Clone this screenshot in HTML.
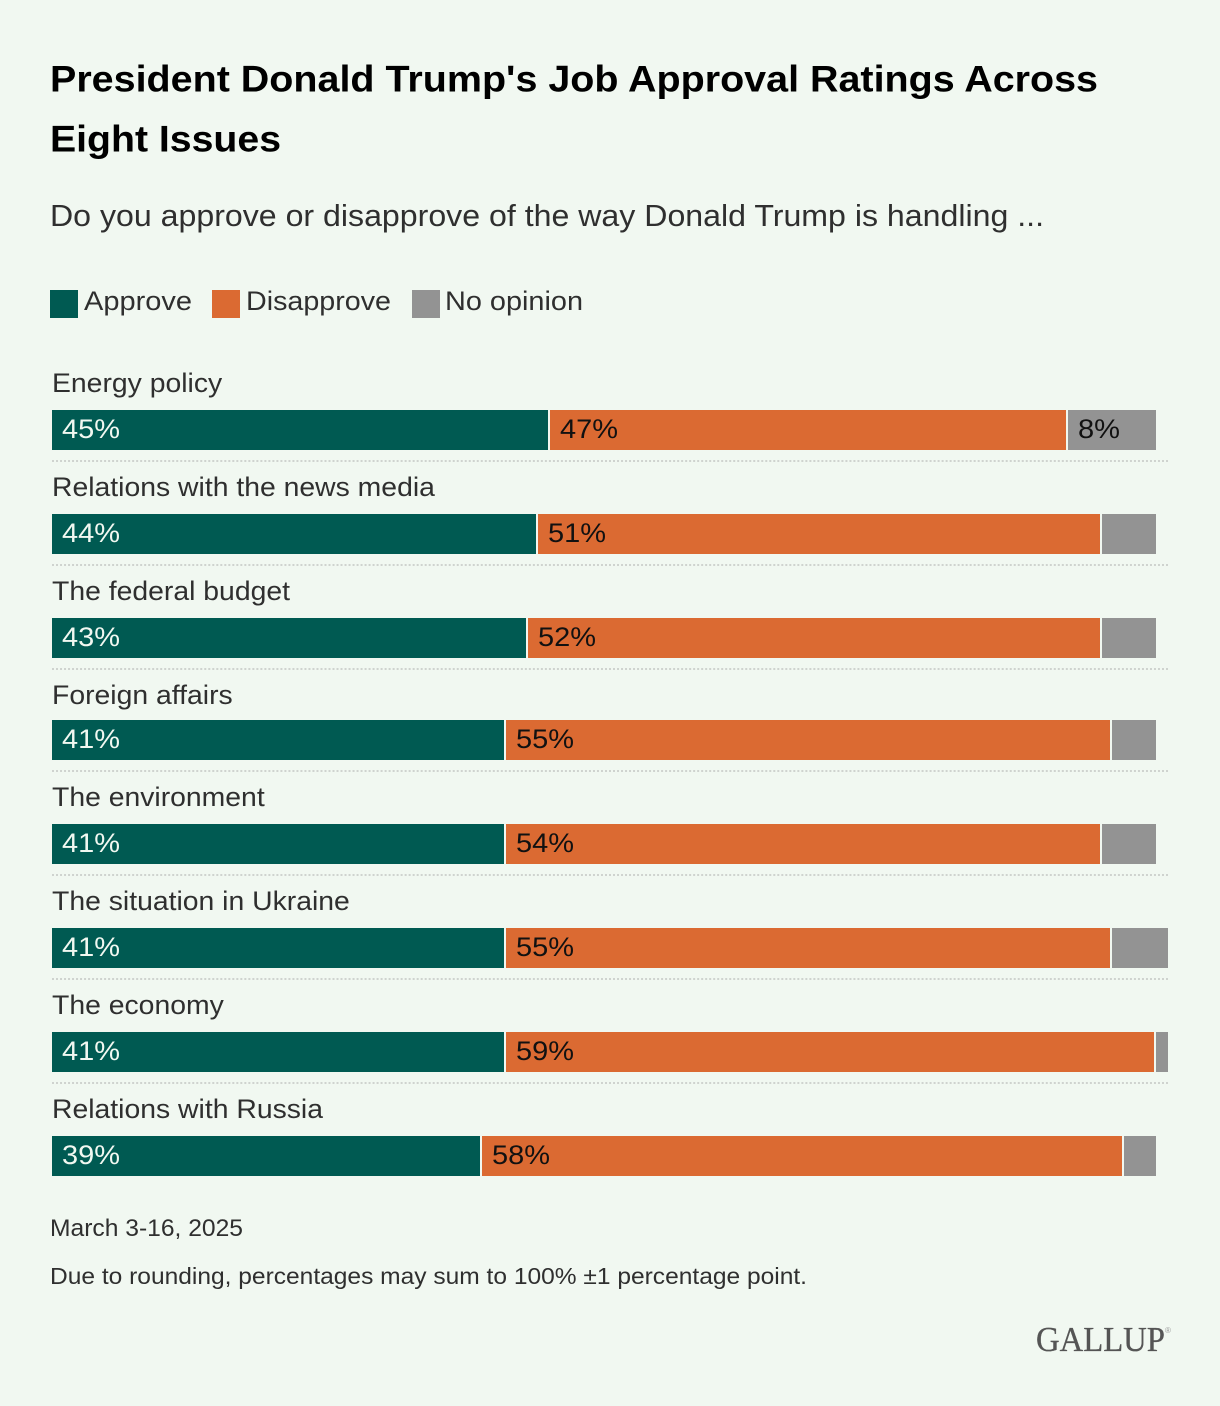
<!DOCTYPE html>
<html lang="en">
<head>
<meta charset="utf-8">
<title>President Donald Trump's Job Approval Ratings Across Eight Issues</title>
<style>
  html, body { margin: 0; padding: 0; background: #f1f8f1; }
  body { width: 1220px; height: 1406px; overflow: hidden; }
  svg { display: block; font-family: "Liberation Sans", Arial, sans-serif; }
  .body-text { fill: #2f2f2f; }
</style>
</head>
<body>
<svg id="chart" xmlns="http://www.w3.org/2000/svg" width="1220" height="1406" viewBox="0 0 1220 1406">
  <rect x="0" y="0" width="1220" height="1406" fill="#f1f8f1"/>

  <text x="50" y="91.5" font-size="37" font-weight="700" fill="#000" textLength="1048" lengthAdjust="spacingAndGlyphs">President Donald Trump's Job Approval Ratings Across</text>
  <text x="50" y="151.5" font-size="37" font-weight="700" fill="#000" textLength="231" lengthAdjust="spacingAndGlyphs">Eight Issues</text>
  <text class="body-text" x="50" y="226" font-size="31" textLength="994" lengthAdjust="spacingAndGlyphs">Do you approve or disapprove of the way Donald Trump is handling ...</text>

  <g>
    <rect x="50" y="290" width="28" height="28" fill="#005a52"/>
    <text class="body-text" x="84" y="310" font-size="27" textLength="108" lengthAdjust="spacingAndGlyphs">Approve</text>
    <rect x="212" y="290" width="28" height="28" fill="#db6a32"/>
    <text class="body-text" x="246" y="310" font-size="27" textLength="145" lengthAdjust="spacingAndGlyphs">Disapprove</text>
    <rect x="412" y="290" width="28" height="28" fill="#939393"/>
    <text class="body-text" x="445" y="310" font-size="27" textLength="138" lengthAdjust="spacingAndGlyphs">No opinion</text>
  </g>

  <g id="rows"></g>

  <text class="body-text" x="50" y="1236" font-size="24" textLength="193" lengthAdjust="spacingAndGlyphs">March 3-16, 2025</text>
  <text class="body-text" x="50" y="1284" font-size="23" textLength="757" lengthAdjust="spacingAndGlyphs">Due to rounding, percentages may sum to 100% ±1 percentage point.</text>

  <text x="1036" y="1351" font-size="35" fill="#555" stroke="#555" stroke-width="0.3" style="font-family:'Liberation Serif',serif" textLength="129" lengthAdjust="spacingAndGlyphs">GALLUP</text>
  <text x="1165" y="1333" font-size="8" fill="#999" style="font-family:'Liberation Sans',sans-serif">®</text>
</svg>

<script>
const categories = ["Energy policy", "Relations with the news media", "The federal budget", "Foreign affairs", "The environment", "The situation in Ukraine", "The economy", "Relations with Russia"];
const approve = [45, 44, 43, 41, 41, 41, 41, 39];
const disapprove = [47, 51, 52, 55, 54, 55, 59, 58];
const noOpinion = [8, 5, 5, 4, 5, 5, 1, 3];
const showNoOpinionLabel = [true, false, false, false, false, false, false, false];

const NS = "http://www.w3.org/2000/svg";
const rowsGroup = document.getElementById("rows");
const LEFT = 52;
const UNIT = 11;
const GAP = 2;
const BAND = 103.6;
const FIRST_BAR_Y = 410;
const FIRST_LABEL_Y = 392.4;

function snap(v) { return Math.round(v / 2) * 2; }
function xWidth(pct) { return pct * UNIT; }
function approveEdge(pct) { return Math.floor((LEFT - 1 + pct * 11.05) / 2) * 2; }
function barY(i) { return snap(FIRST_BAR_Y + i * BAND); }
function labelY(i) { return snap(FIRST_LABEL_Y + i * BAND); }

function addRect(parent, x0, x1, y, h, fill) {
  const r = document.createElementNS(NS, "rect");
  r.setAttribute("x", x0);
  r.setAttribute("y", y);
  r.setAttribute("width", Math.max(0, x1 - x0));
  r.setAttribute("height", h);
  r.setAttribute("fill", fill);
  parent.appendChild(r);
  return r;
}

function addPct(parent, x, y, pct, fill) {
  const t = document.createElementNS(NS, "text");
  t.textContent = pct + "%";
  t.setAttribute("x", x);
  t.setAttribute("y", y);
  t.setAttribute("font-size", "27");
  t.setAttribute("fill", fill);
  t.setAttribute("textLength", String(pct).length > 1 ? 58 : 42);
  t.setAttribute("lengthAdjust", "spacingAndGlyphs");
  parent.appendChild(t);
  return t;
}

categories.forEach(function (name, i) {
  const y = barY(i);
  const slug = name.toLowerCase().replace(/\s+/g, "-");
  const row = document.createElementNS(NS, "g");
  
  
  rowsGroup.appendChild(row);

  const label = document.createElementNS(NS, "text");
  label.textContent = name;
  label.setAttribute("x", LEFT);
  label.setAttribute("y", labelY(i));
  label.setAttribute("font-size", "27");
  label.setAttribute("class", "body-text");
  
  
  row.appendChild(label);
  label.setAttribute("textLength", (label.getComputedTextLength() * 1.05).toFixed(1));
  label.setAttribute("lengthAdjust", "spacingAndGlyphs");

  const aEnd = approveEdge(approve[i]);
  const aTrue = LEFT + xWidth(approve[i]);
  const dStartTrue = aTrue + GAP;
  const dEndTrue = dStartTrue + xWidth(disapprove[i]);
  const nStartTrue = dEndTrue + GAP;
  const nEndTrue = nStartTrue + xWidth(noOpinion[i]);

  const aRect = addRect(row, LEFT, aEnd, y, 40, "#005a52");
  
  

  const dStart = aEnd + GAP;
  const dRect = addRect(row, dStart, snap(dEndTrue), y, 40, "#db6a32");
  
  

  const nStart = snap(nStartTrue);
  const nRect = addRect(row, nStart, snap(nEndTrue), y, 40, "#939393");
  
  

  const aText = addPct(row, LEFT + 10, y + 28, approve[i], "#f1f8f1");
  
  

  const dText = addPct(row, dStart + 10, y + 28, disapprove[i], "#111");
  
  

  if (showNoOpinionLabel[i]) {
    const nText = addPct(row, nStart + 10, y + 28, noOpinion[i], "#111");
    
    
  }

  if (i < categories.length - 1) {
    const sep = document.createElementNS(NS, "line");
    sep.setAttribute("x1", LEFT);
    sep.setAttribute("x2", 1168);
    sep.setAttribute("y1", y + 51);
    sep.setAttribute("y2", y + 51);
    sep.setAttribute("stroke", "#cfd3cf");
    sep.setAttribute("stroke-width", "2");
    sep.setAttribute("stroke-dasharray", "2 2.0072");
    
    
    row.appendChild(sep);
  }
});
</script>
</body>
</html>
